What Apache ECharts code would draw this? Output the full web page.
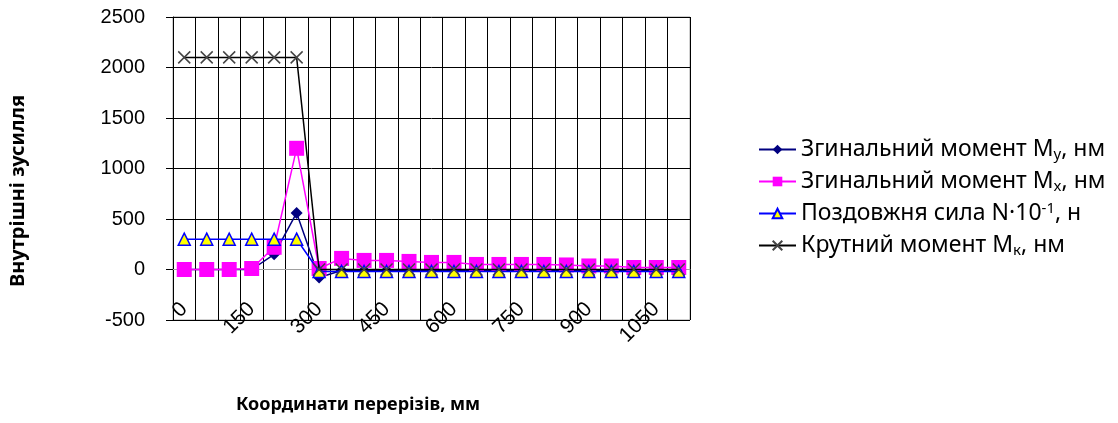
<!DOCTYPE html>
<html>
<head>
<meta charset="utf-8">
<script src="https://cdn.jsdelivr.net/npm/echarts@6/dist/echarts.min.js"></script>
<style>
  html, body { margin: 0; padding: 0; background: #fff; }
  #chart { width: 1118px; height: 423px; }
</style>
</head>
<body>
<div id="chart"></div>
<script>
// координати перерізів, мм
const categories = ['0', '50', '100', '150', '200', '250', '300', '350', '400', '450', '500', '550',
  '600', '650', '700', '750', '800', '850', '900', '950', '1000', '1050', '1100'];

// згинальний момент My
const momentY = [0, 0, 0, 0, 150, 560, -80, -10, -10, -10, -10, -10,
  -10, -10, -10, -10, -10, -10, -10, -10, -10, -10, -10];
// згинальний момент Mx
const momentX = [0, 0, 0, 10, 220, 1200, 10, 110, 90, 90, 80, 70,
  70, 50, 50, 50, 50, 45, 35, 35, 20, 20, 20];
// поздовжня сила N*10^-1
const forceN = [300, 300, 300, 300, 300, 300, -20, -20, -20, -20, -20, -20,
  -20, -20, -20, -20, -20, -20, -20, -20, -20, -20, -20];
// крутний момент Mk
const momentK = [2100, 2100, 2100, 2100, 2100, 2100, 0, 0, 0, 0, 0, 0,
  0, 0, 0, 0, 0, 0, 0, 0, 0, 0, 0];

const yTicks = { min: -500, max: 2500, step: 500 };

const legendText = {
  My: 'Згинальний момент M{sub|y}, нм',
  Mx: 'Згинальний момент M{sub|x}, нм',
  N: 'Поздовжня сила N·10{sup|-1}, н',
  Mk: 'Крутний момент M{sub|к}, нм'
};

var myChart = echarts.init(document.getElementById('chart'));

const option = {
  animation: false,
  backgroundColor: '#fff',
  grid: {
    left: 173,
    right: 428,
    top: 17,
    bottom: 103,
    show: true,
    borderColor: '#a0a0a0',
    borderWidth: 1
  },
  graphic: [
    {
      type: 'text',
      x: 18,
      y: 191,
      rotation: Math.PI / 2,
      style: {
        text: 'Внутрішні зусилля',
        font: 'bold 20px "Noto Sans"',
        fill: '#000',
        align: 'center',
        verticalAlign: 'middle'
      }
    },
    {
      type: 'text',
      x: 358,
      y: 405,
      style: {
        text: 'Координати перерізів, мм',
        font: 'bold 18px "Noto Sans"',
        fill: '#000',
        align: 'center',
        verticalAlign: 'middle'
      }
    }
  ],
  legend: {
    orient: 'vertical',
    left: 753,
    top: 132,
    itemWidth: 37,
    itemHeight: 12,
    itemGap: 7,
    data: ['My', 'Mx', 'N', 'Mk'],
    formatter: function (name) {
      return legendText[name];
    },
    textStyle: {
      fontFamily: 'Noto Sans',
      fontSize: 23,
      lineHeight: 25,
      color: '#000',
      rich: {
        sub: { fontSize: 15, lineHeight: 15, verticalAlign: 'bottom', fontFamily: 'Noto Sans', color: '#000' },
        sup: { fontSize: 15, lineHeight: 15, verticalAlign: 'top', fontFamily: 'Noto Sans', color: '#000' }
      }
    }
  },
  xAxis: {
    type: 'category',
    data: categories,
    boundaryGap: true,
    axisLine: { show: true, lineStyle: { color: '#a0a0a0', width: 1 } },
    axisTick: { show: false },
    axisLabel: {
      interval: 2,
      rotate: 45,
      margin: -14,
      fontFamily: 'Liberation Sans',
      fontSize: 21,
      color: '#000'
    },
    splitLine: { show: true, interval: 0, lineStyle: { color: '#000', width: 1 } }
  },
  yAxis: {
    type: 'value',
    min: yTicks.min,
    max: yTicks.max,
    interval: yTicks.step,
    axisLine: { show: true, lineStyle: { color: '#000', width: 1 } },
    axisTick: { show: true, inside: false, length: 7, lineStyle: { color: '#000' } },
    axisLabel: {
      margin: 28,
      fontFamily: 'Liberation Sans',
      fontSize: 20,
      color: '#000',
      formatter: function (v) { return String(v); }
    },
    splitLine: { show: true, lineStyle: { color: '#000', width: 1 } }
  },
  series: [
    {
      name: 'My',
      type: 'line',
      data: momentY,
      showAllSymbol: true,
      symbol: 'diamond',
      symbolSize: 12,
      lineStyle: { color: '#000080', width: 1.5 },
      itemStyle: { color: '#000080' },
      z: 2
    },
    {
      name: 'Mx',
      type: 'line',
      data: momentX,
      showAllSymbol: true,
      symbol: 'rect',
      symbolSize: 15,
      lineStyle: { color: '#ff00ff', width: 1.5 },
      itemStyle: { color: '#ff00ff' },
      z: 3
    },
    {
      name: 'N',
      type: 'line',
      data: forceN,
      showAllSymbol: true,
      symbol: 'triangle',
      symbolSize: 12,
      lineStyle: { color: '#0000ff', width: 1.5 },
      itemStyle: { color: '#ffff00', borderColor: '#0000ff', borderWidth: 1.5 },
      z: 4
    },
    {
      name: 'Mk',
      type: 'line',
      data: momentK,
      showAllSymbol: true,
      symbol: 'path://M0,0L10,10M10,0L0,10',
      symbolSize: 12,
      lineStyle: { color: '#000', width: 1.5 },
      itemStyle: { color: 'none', borderColor: '#444', borderWidth: 1.5 },
      z: 5
    }
  ]
};

myChart.setOption(option);
</script>
</body>
</html>
